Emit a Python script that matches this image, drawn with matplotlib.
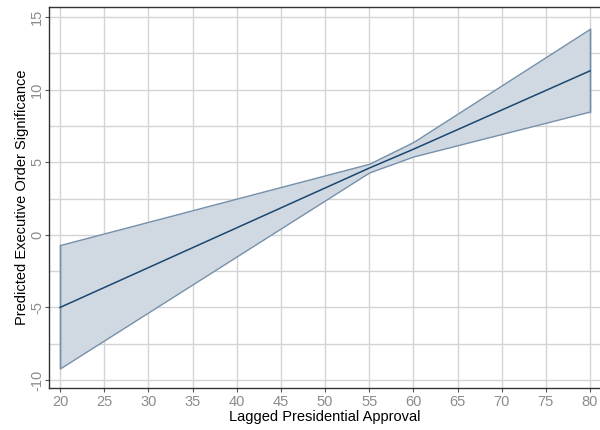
import matplotlib
matplotlib.use("Agg")
import matplotlib.pyplot as plt
from matplotlib.ticker import MultipleLocator

plt.rcParams['font.family'] = ['Liberation Sans', 'DejaVu Sans']
plt.rcParams['axes.unicode_minus'] = False

approval = [20, 55, 60, 80]
predicted = [-5.0, 4.6, 5.9, 11.3]
upper = [-0.7, 4.9, 6.4, 14.2]
lower = [-9.2, 4.3, 5.4, 8.5]

x_ticks = list(range(20, 81, 5))
y_ticks = [-10, -5, 0, 5, 10, 15]

fig = plt.figure(figsize=(6.0, 4.3), dpi=100)
ax = fig.add_axes([49/600, 42/430, 1 - 49/600, (388 - 7)/430])

ax.fill_between(approval, lower, upper, facecolor='#d0d9e2', edgecolor='#7590ab',
                linewidth=1.0, zorder=2)
ax.plot([approval[0], approval[0]], [lower[0], upper[0]], color='#7590ab', lw=1.0, zorder=2)
ax.plot([approval[-1], approval[-1]], [lower[-1], upper[-1]], color='#7590ab', lw=1.0, zorder=2)
ax.plot(approval, predicted, color='#1a476f', lw=1.1, zorder=3)

ax.set_xlim(18.75, 81.13)
ax.set_ylim(-10.55, 15.7)
ax.set_xticks(x_ticks)
ax.set_yticks(y_ticks)
ax.yaxis.set_minor_locator(MultipleLocator(2.5))
ax.grid(True, which='major', color='#d4d4d4', lw=1.0, zorder=0)
ax.grid(True, which='minor', axis='y', color='#d4d4d4', lw=1.0, zorder=0)
ax.set_axisbelow(True)

ax.tick_params(axis='both', which='major', labelsize=10.5, labelcolor='#8c8c8c',
               color='#555555', length=3, width=0.8, pad=2)
ax.tick_params(axis='y', which='major', pad=0.5)
ax.tick_params(axis='y', which='minor', length=0)
for lbl in ax.get_yticklabels():
    lbl.set_rotation(90)
    lbl.set_va('center')

for s in ['left', 'bottom', 'top']:
    ax.spines[s].set_color('#333333')
    ax.spines[s].set_linewidth(1.0)
ax.spines['right'].set_visible(False)

ax.set_xlabel('Lagged Presidential Approval', fontsize=10.5, labelpad=1)
ax.set_ylabel('Predicted Executive Order Significance', fontsize=10.5, labelpad=1)

fig.savefig('out.png', dpi=100)
